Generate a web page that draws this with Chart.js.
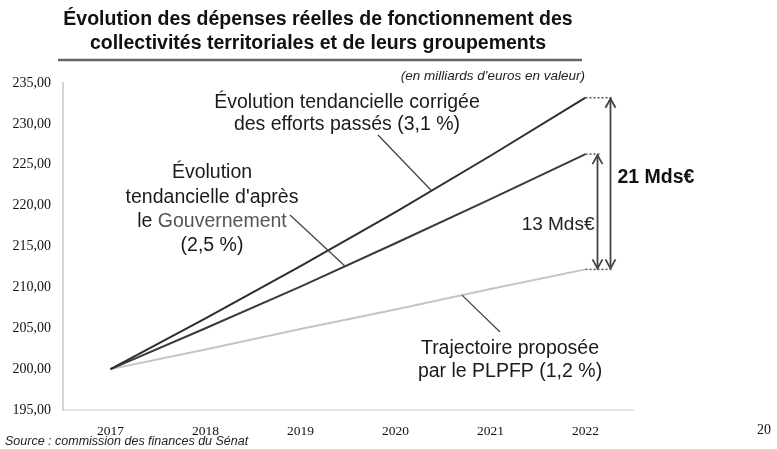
<!DOCTYPE html>
<html lang="fr">
<head>
<meta charset="utf-8">
<title>Dépenses réelles de fonctionnement</title>
<script src="https://cdn.jsdelivr.net/npm/chart.js@4.4.1/dist/chart.umd.min.js"></script>
<style>
    html, body { margin: 0; padding: 0; background: #fff; }
    #wrap { width: 777px; height: 449px; position: relative; }
</style>
</head>
<body>
<div id="wrap"><canvas id="depChart" width="777" height="449"></canvas></div>
<script>
// Années et trajectoires (Mds€)
const YEARS = ['2017', '2018', '2019', '2020', '2021', '2022'];
const TENDANCIEL_CORRIGE = [200.0, 206.2, 212.6, 219.2, 226.1, 233.2];   // 3,1 %
const TENDANCIEL_GOUV = [200.0, 205.0, 210.1, 215.4, 220.8, 226.3];      // 2,5 %
const TRAJECTOIRE_PLPFP = [200.0, 202.4, 204.9, 207.3, 209.8, 212.2];    // 1,2 %
const Y_TICKS = [195, 200, 205, 210, 215, 220, 225, 230, 235];

const SANS = '"Liberation Sans", Arial, sans-serif';
const SERIF = '"Liberation Serif", "Times New Roman", serif';

// valeur d'une série à un indice fractionnaire (pour accrocher les renvois)
function valueAt(series, idx) {
    const i = Math.floor(idx), f = idx - i;
    if (i >= series.length - 1) return series[series.length - 1];
    return series[i] + (series[i + 1] - series[i]) * f;
}

function arrowHead(ctx, x, y, dir) {
    ctx.beginPath();
    ctx.moveTo(x - 5, y - dir * 9);
    ctx.lineTo(x, y);
    ctx.lineTo(x + 5, y - dir * 9);
    ctx.stroke();
}

function centeredLines(ctx, lines, x, y0, step) {
    lines.forEach((l, i) => ctx.fillText(l, x, y0 + i * step));
}

const annotations = {
    id: 'annotations',
    afterDraw(chart) {
        const ctx = chart.ctx;
        const xs = chart.scales.x, ys = chart.scales.y;
        const last = YEARS.length - 1;
        const xEnd = xs.getPixelForValue(last);
        const yTop = ys.getPixelForValue(TENDANCIEL_CORRIGE[last]);
        const yMid = ys.getPixelForValue(TENDANCIEL_GOUV[last]);
        const yLow = ys.getPixelForValue(TRAJECTOIRE_PLPFP[last]);
        ctx.save();

        // titre
        ctx.fillStyle = '#111';
        ctx.textAlign = 'center';
        ctx.textBaseline = 'middle';
        ctx.font = 'bold 19.5px ' + SANS;
        ctx.fillText('Évolution des dépenses réelles de fonctionnement des', 318, 20);
        ctx.fillText('collectivités territoriales et de leurs groupements', 318, 44);
        ctx.strokeStyle = '#666';
        ctx.lineWidth = 2.5;
        ctx.beginPath();
        ctx.moveTo(58, 60);
        ctx.lineTo(582, 60);
        ctx.stroke();

        ctx.font = 'italic 13.5px ' + SANS;
        ctx.textAlign = 'right';
        ctx.fillStyle = '#222';
        ctx.fillText("(en milliards d'euros en valeur)", 585, 76);

        // prolongements pointillés après 2022
        ctx.strokeStyle = '#555';
        ctx.lineWidth = 1.5;
        ctx.setLineDash([2, 2]);
        [[yTop, 27], [yMid, 15], [yLow, 28]].forEach(([y, len]) => {
            ctx.beginPath();
            ctx.moveTo(xEnd, y);
            ctx.lineTo(xEnd + len, y);
            ctx.stroke();
        });
        ctx.setLineDash([]);

        // flèches d'écart
        ctx.strokeStyle = '#444';
        ctx.lineWidth = 1.8;
        [[xEnd + 25, yTop], [xEnd + 12, yMid]].forEach(([x, y]) => {
            ctx.beginPath();
            ctx.moveTo(x, y + 1);
            ctx.lineTo(x, yLow - 1);
            ctx.stroke();
            arrowHead(ctx, x, y + 1, -1);
            arrowHead(ctx, x, yLow - 1, 1);
        });

        ctx.fillStyle = '#111';
        ctx.textAlign = 'left';
        ctx.font = 'bold 19.5px ' + SANS;
        ctx.fillText('21 Mds€', xEnd + 32, 178);
        ctx.font = '19px ' + SANS;
        ctx.textAlign = 'right';
        ctx.fillStyle = '#222';
        ctx.fillText('13 Mds€', xEnd + 9, 225);

        // renvois vers les courbes
        ctx.strokeStyle = '#444';
        ctx.lineWidth = 1.3;
        const leader = (x0, y0, series, idx) => {
            ctx.beginPath();
            ctx.moveTo(x0, y0);
            ctx.lineTo(xs.getPixelForValue(idx), ys.getPixelForValue(valueAt(series, idx)));
            ctx.stroke();
        };
        leader(378, 135, TENDANCIEL_CORRIGE, 3.38);
        leader(290, 215, TENDANCIEL_GOUV, 2.47);
        leader(500, 332, TRAJECTOIRE_PLPFP, 3.70);

        // libellés des trajectoires
        ctx.textAlign = 'center';
        ctx.fillStyle = '#1a1a1a';
        ctx.font = '19.5px ' + SANS;
        centeredLines(ctx, ['Évolution tendancielle corrigée', 'des efforts passés (3,1 %)'], 347, 103, 22);
        centeredLines(ctx, ['Évolution', "tendancielle d'après"], 212, 173, 24.5);
        ctx.fillText('(2,5 %)', 212, 246);
        ctx.textAlign = 'left';
        const w1 = ctx.measureText('le ').width;
        const w2 = ctx.measureText('Gouvernement').width;
        const gx = 212 - (w1 + w2) / 2;
        ctx.fillText('le ', gx, 222);
        ctx.fillStyle = '#555';
        ctx.fillText('Gouvernement', gx + w1, 222);
        ctx.fillStyle = '#1a1a1a';
        ctx.textAlign = 'center';
        centeredLines(ctx, ['Trajectoire proposée', 'par le PLPFP (1,2 %)'], 510, 349, 23);

        // source et numéro de page
        ctx.textAlign = 'left';
        ctx.font = 'italic 12.5px ' + SANS;
        ctx.fillStyle = '#222';
        ctx.fillText('Source : commission des finances du Sénat', 5, 442);
        ctx.font = '14px ' + SERIF;
        ctx.fillStyle = '#111';
        ctx.fillText('20', 757, 430);
        ctx.restore();
    }
};

const ctx = document.getElementById('depChart').getContext('2d');
new Chart(ctx, {
    type: 'line',
    data: {
        labels: YEARS,
        datasets: [
            { label: 'Évolution tendancielle corrigée (3,1 %)', data: TENDANCIEL_CORRIGE, borderColor: '#2e2e2e', borderWidth: 2 },
            { label: "Évolution tendancielle d'après le Gouvernement (2,5 %)", data: TENDANCIEL_GOUV, borderColor: '#3a3a3a', borderWidth: 2 },
            { label: 'Trajectoire proposée par le PLPFP (1,2 %)', data: TRAJECTOIRE_PLPFP, borderColor: '#c4c4c4', borderWidth: 2 }
        ].map(ds => Object.assign(ds, { pointRadius: 0, tension: 0, fill: false }))
    },
    options: {
        responsive: false,
        animation: false,
        devicePixelRatio: 1,
        layout: { padding: { top: 83, right: 144, left: 0, bottom: 0 } },
        plugins: { legend: { display: false }, tooltip: { enabled: false }, title: { display: false } },
        scales: {
            x: {
                type: 'category',
                offset: true,
                grid: { display: false, drawTicks: false },
                border: { color: '#e6e6e6', width: 2 },
                ticks: { color: '#111', font: { family: SERIF, size: 13.5 }, padding: 13, maxRotation: 0 },
                afterFit: s => { s.height = 39; }
            },
            y: {
                min: 195,
                max: 235,
                afterBuildTicks: s => { s.ticks = Y_TICKS.map(v => ({ value: v })); },
                grid: { display: false, drawTicks: false },
                border: { color: '#d4d4d4', width: 2 },
                ticks: {
                    color: '#111',
                    font: { family: SERIF, size: 14 },
                    padding: 12,
                    callback: v => v.toFixed(2).replace('.', ',')
                },
                afterFit: s => { s.width = 63; }
            }
        }
    },
    plugins: [annotations]
});
</script>
</body>
</html>
